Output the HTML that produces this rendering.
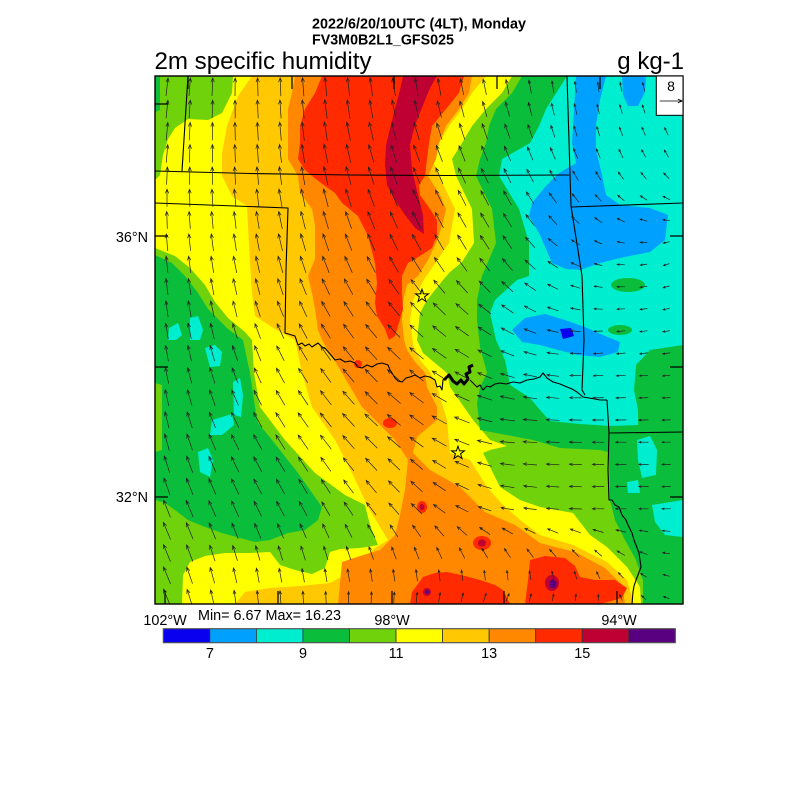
<!DOCTYPE html>
<html><head><meta charset="utf-8"><style>
html,body{margin:0;padding:0;background:#fff;}
svg{display:block;}
text{font-family:"Liberation Sans",Arial,sans-serif;fill:#000;}
</style></head><body>
<svg width="800" height="800" viewBox="0 0 800 800" xmlns="http://www.w3.org/2000/svg">
<defs><clipPath id="mc"><rect x="155" y="76" width="528" height="528"/></clipPath></defs>
<rect width="800" height="800" fill="#fff"/>
<g clip-path="url(#mc)">
<rect x="155" y="76" width="528" height="528" fill="#ffff00"/>
<!-- NW -->
<path fill="#70d20a" d="M155,76 L233,76 L232,93 L222,113 L208,120 L188,119 L175,128 L168,139 L163,155 L160,175 L155,180 Z"/>
<path fill="#0abe3c" d="M155,76 L160,76 L160,110 L155,112 Z"/>
<!-- SW -->
<path fill="#70d20a" d="M155,248 L175,256 L190,268 L205,285 L215,302 L228,318 L245,332 L252,340 L254,373 L260,407 L285,440 L315,473 L345,495 L365,505 L370,525 L378,545 L360,548 L340,549 L330,552 L325,568 L312,574 L295,570 L280,565 L270,552 L250,553 L225,553 L205,556 L190,562 L183,575 L182,604 L155,604 Z"/>
<path fill="#0abe3c" d="M155,255 L172,263 L185,276 L198,293 L208,309 L228,329 L243,340 L250,373 L255,407 L258,423 L272,440 L298,473 L322,507 L318,520 L305,530 L288,533 L270,540 L255,542 L240,538 L222,533 L205,527 L188,520 L175,510 L165,503 L155,500 Z"/>
<path fill="#70d20a" d="M155,383 L162,385 L162,450 L155,452 Z"/>
<g fill="#00eed0">
<path d="M205,348 L215,345 L222,352 L220,366 L210,367 Z"/>
<path d="M233,382 L240,378 L243,395 L241,417 L234,415 Z"/>
<path d="M212,420 L232,414 L234,425 L222,435 L210,435 Z"/>
<path d="M198,452 L208,448 L213,460 L210,477 L200,472 Z"/>
<path d="M190,318 L198,316 L203,330 L200,340 L190,340 Z"/>
<path d="M169,328 L178,323 L182,335 L176,340 L168,340 Z"/>
</g>
<!-- East -->
<path fill="#70d20a" d="M512,76 L683,76 L683,604 L641,604 L640,587 L627,567 L607,547 L590,535 L573,513 L540,507 L520,500 L500,487 L483,453 L490,450 L507,446 L490,440 L473,420 L450,387 L447,373 L423,353 L417,340 L420,313 L427,300 L443,280 L450,272 L462,262 L474,243 L472,209 L456,176 L452,159 L462,143 L472,126 L486,109 L502,93 Z"/>
<path fill="#0abe3c" d="M522,76 L683,76 L683,604 L643,604 L643,580 L636,560 L625,540 L615,520 L610,500 L609,460 L608,452 L600,450 L560,448 L533,440 L480,430 L477,403 L480,387 L487,373 L480,347 L477,320 L477,300 L482,276 L496,243 L492,209 L476,176 L480,159 L486,143 L489,126 L496,109 L512,93 Z"/>
<path fill="#00eed0" d="M567,76 L683,76 L683,345 L650,350 L636,365 L634,390 L638,410 L638,425 L610,426 L580,424 L550,421 L540,410 L530,398 L510,385 L505,360 L496,340 L490,313 L495,300 L517,280 L529,276 L529,243 L519,209 L499,176 L502,159 L530,143 L539,126 L546,109 Z"/>
<ellipse cx="628" cy="285" rx="17" ry="7" fill="#0abe3c"/>
<ellipse cx="620" cy="330" rx="12" ry="5" fill="#0abe3c"/>
<g fill="#00a0ff">
<path d="M576,76 L606,76 L600,100 L596,125 L596,150 L602,175 L606,195 L620,205 L650,208 L668,215 L665,240 L650,252 L620,258 L600,263 L580,270 L566,269 L552,263 L546,249 L539,233 L529,216 L532,203 L546,186 L559,173 L576,163 L572,143 L574,110 Z"/>
<path d="M622,76 L646,76 L645,92 L638,106 L628,106 L623,95 Z"/>
<path d="M512,330 L525,318 L545,314 L565,320 L585,327 L605,336 L620,342 L618,352 L600,357 L578,355 L558,350 L540,345 L522,342 Z"/>
</g>
<path fill="#0a00f0" d="M560,329 L571,328 L574,336 L563,339 Z"/>
<g fill="#00eed0">
<path d="M637,440 L650,436 L657,450 L656,475 L642,478 L638,460 Z"/>
<path d="M627,482 L638,480 L640,493 L628,493 Z"/>
<path d="M652,505 L683,500 L683,537 L665,535 L655,522 Z"/>
</g>
<!-- Tongue -->
<path fill="#ffc800" d="M252,76 L238,96 L227,126 L222,153 L222,176 L232,196 L247,206 L248,226 L250,263 L252,293 L255,316 L275,329 L295,340 L302,373 L312,407 L335,440 L352,473 L368,507 L388,540 L375,548 L360,560 L345,575 L330,583 L300,586 L270,588 L245,592 L235,604 L634,604 L627,580 L607,562 L573,545 L540,535 L520,520 L503,505 L487,487 L470,460 L450,453 L447,420 L437,387 L430,372 L420,360 L413,345 L410,320 L413,300 L425,278 L432,268 L449,243 L455,209 L439,176 L432,159 L439,143 L449,126 L462,109 L472,93 L486,76 Z"/>
<path fill="#ff8800" d="M295,76 L292,93 L288,109 L288,159 L298,176 L300,193 L312,209 L315,226 L315,259 L308,276 L312,293 L315,309 L318,330 L322,340 L342,373 L362,407 L395,440 L408,460 L405,490 L400,515 L395,535 L380,550 L360,556 L342,562 L338,604 L625,604 L622,585 L605,568 L575,552 L540,543 L515,525 L485,512 L460,487 L430,470 L413,453 L417,437 L437,420 L437,407 L427,387 L425,373 L415,362 L407,350 L404,340 L402,320 L403,300 L407,285 L418,276 L428,260 L436,243 L442,226 L446,209 L440,195 L428,176 L436,159 L439,143 L446,126 L459,109 L469,93 L472,76 Z"/>
<g fill="#ff2a00">
<path d="M322,76 L315,93 L305,109 L300,126 L300,143 L298,159 L305,170 L312,176 L325,186 L335,193 L342,203 L358,216 L368,236 L375,263 L377,283 L375,303 L377,316 L385,329 L389,340 L395,336 L398,326 L403,309 L402,293 L402,276 L408,263 L420,256 L432,248 L437,235 L437,220 L430,209 L420,195 L419,185 L425,176 L427,159 L429,143 L432,126 L446,109 L459,93 L464,76 Z"/>
<path d="M410,604 L412,592 L423,577 L435,573 L447,572 L465,576 L480,580 L495,585 L503,590 L510,604 Z"/>
<path d="M525,604 L528,580 L530,560 L545,556 L565,558 L575,566 L580,577 L595,580 L615,580 L627,588 L622,598 L600,604 Z"/>
<ellipse cx="482" cy="543" rx="9" ry="7"/>
<ellipse cx="390" cy="423" rx="7" ry="5"/>
<ellipse cx="358" cy="364" rx="4" ry="4"/>
<ellipse cx="422" cy="507" rx="5" ry="6"/>
</g>
<g fill="#bf0032">
<path d="M403,76 L437,76 L430,88 L423,105 L415,125 L410,145 L412,170 L418,195 L423,215 L424,234 L415,228 L405,215 L395,200 L387,185 L385,165 L386,145 L391,125 L396,105 L400,90 Z"/>
<ellipse cx="482" cy="543" rx="4" ry="3.5"/>
<ellipse cx="552" cy="583" rx="7" ry="8"/>
<ellipse cx="422" cy="507" rx="2.5" ry="3"/>
<ellipse cx="427" cy="592" rx="4" ry="4"/>
</g>
<ellipse cx="553" cy="584" rx="3.5" ry="4.5" fill="#58007f"/>
<ellipse cx="427" cy="592" rx="2" ry="2" fill="#58007f"/>
<!-- Borders -->
<g fill="none" stroke="#000" stroke-width="1.1" stroke-linejoin="round">
<path d="M188,76 L182,171"/>
<path d="M155,171 L250,173.5 L350,175 L450,175.5 L569,175"/>
<path d="M155,203 L288,208 L286,270 L285,333 L295,336 L298,345 L302,343 L305,346 L309,344 L312,347 L318,343 L322,347 L325,348 L330,354 L335,360 L340,359 L345,362 L350,361 L355,363 L358,367 L362,368 L367,365 L372,367 L377,364 L382,363 L388,365 L390,370 L392,373 L395,378 L398,381 L402,382 L406,378 L410,377 L415,375 L420,378 L425,376 L430,377 L435,380 L437,387 L440,386 L442,390 L443,380 L447,377"/>
<path d="M470,380 L474,384 L477,387 L480,385 L483,390 L487,386 L490,387 L495,384 L500,383 L506,384 L513,382 L520,383 L527,380 L534,379 L540,377 L543,373 L547,378 L553,382 L560,384 L567,387 L572,389 L577,392 L583,397 L589,398 L595,399 L600,400 L607,400"/>
<path d="M567,76 L571,206 L582,276 L584,340 L582,390 L585,395"/>
<path d="M571,207 L683,203"/>
<path d="M607,400 L609,433 L683,432"/>
<path d="M609,433 L608,470 L609,500 L612,500 L615,505 L619,507 L622,515 L626,520 L628,525 L632,533 L634,540 L636,545 L639,553 L640,560 L641,567 L638,575 L636,580 L634,586 L633,592 L632,604"/>
</g>
<path fill="none" stroke="#000" stroke-width="3" stroke-linejoin="round" d="M444,380 L449,375 L453,381 L457,384 L461,380 L464,384 L468,379 L466,374 L470,372 L469,367 L473,365"/>
<!-- stars -->
<g fill="none" stroke="#000" stroke-width="1">
<path id="star1" d=""/>
<path id="star2" d=""/>
</g>
<path id="arr" fill="none" stroke="#222" stroke-width="0.7" d=""/>
</g>
<!-- frame and ticks -->
<rect x="155" y="76" width="528" height="528" fill="none" stroke="#000" stroke-width="1.4"/>
<path fill="none" stroke="#000" stroke-width="1.2" d="M155,104 h13 M155,236 h13 M155,367 h13 M155,497 h13 M683,236 h-13 M683,367 h-13 M683,497 h-13 M165,604 v-13 M278,604 v-13 M392,604 v-13 M504,604 v-13 M617,604 v-13 M188,76 v13 M292,76 v13 M394,76 v13 M497,76 v13 M600,76 v13"/>
<!-- legend box -->
<rect x="656.3" y="76" width="26.7" height="39.3" fill="#fff" stroke="#000" stroke-width="1"/>
<text x="671" y="91" font-size="14" text-anchor="middle">8</text>
<path fill="none" stroke="#000" stroke-width="0.8" d="M659.7,101 L682.3,101 M682.3,101 L677.8,99.1 M682.3,101 L677.8,102.9"/>
<!-- titles -->
<text x="312" y="28.5" font-size="14.3" font-weight="bold" textLength="214" lengthAdjust="spacingAndGlyphs">2022/6/20/10UTC (4LT), Monday</text>
<text x="312" y="44.5" font-size="14.3" font-weight="bold" textLength="142" lengthAdjust="spacingAndGlyphs">FV3M0B2L1_GFS025</text>
<text x="154.5" y="69" font-size="24" textLength="217" lengthAdjust="spacingAndGlyphs">2m specific humidity</text>
<text x="684" y="69" font-size="24" text-anchor="end">g kg-1</text>
<!-- axis labels -->
<text x="148" y="242" font-size="14.4" text-anchor="end">36°N</text>
<text x="148" y="502" font-size="14.4" text-anchor="end">32°N</text>
<text x="165" y="625" font-size="14.4" text-anchor="middle">102°W</text>
<text x="392" y="625" font-size="14.4" text-anchor="middle">98°W</text>
<text x="619" y="625" font-size="14.4" text-anchor="middle">94°W</text>
<text x="198" y="620" font-size="14.4" textLength="143" lengthAdjust="spacingAndGlyphs">Min= 6.67 Max= 16.23</text>
<!-- colorbar -->
<g stroke="#333" stroke-width="0.8">
<rect x="163.3" y="628.7" width="46.55" height="14" fill="#0a00f0"/>
<rect x="209.85" y="628.7" width="46.55" height="14" fill="#00a0ff"/>
<rect x="256.4" y="628.7" width="46.55" height="14" fill="#00eed0"/>
<rect x="302.95" y="628.7" width="46.55" height="14" fill="#0abe3c"/>
<rect x="349.5" y="628.7" width="46.55" height="14" fill="#70d20a"/>
<rect x="396.05" y="628.7" width="46.55" height="14" fill="#ffff00"/>
<rect x="442.6" y="628.7" width="46.55" height="14" fill="#ffc800"/>
<rect x="489.15" y="628.7" width="46.55" height="14" fill="#ff8800"/>
<rect x="535.7" y="628.7" width="46.55" height="14" fill="#ff2a00"/>
<rect x="582.25" y="628.7" width="46.55" height="14" fill="#bf0032"/>
<rect x="628.8" y="628.7" width="46.55" height="14" fill="#58007f"/>
</g>
<rect x="163.3" y="628.7" width="512" height="14" fill="none" stroke="#555" stroke-width="1"/>
<text x="209.85" y="658" font-size="14.4" text-anchor="middle">7</text>
<text x="302.95" y="658" font-size="14.4" text-anchor="middle">9</text>
<text x="396.05" y="658" font-size="14.4" text-anchor="middle">11</text>
<text x="489.15" y="658" font-size="14.4" text-anchor="middle">13</text>
<text x="582.25" y="658" font-size="14.4" text-anchor="middle">15</text>
</svg>
<script>
(function(){
function star(cx,cy,R,r){var s='';for(var k=0;k<10;k++){var a=Math.PI/5*k-Math.PI/2;var rr=(k%2==0)?R:r;s+=(k==0?'M':'L')+(cx+rr*Math.cos(a)).toFixed(2)+','+(cy+rr*Math.sin(a)).toFixed(2)+' ';}return s+'Z';}
document.getElementById('star1').setAttribute('d',star(422,296,6.8,2.7));
document.getElementById('star2').setAttribute('d',star(458,453,6.8,2.7));
var A=[
[[8,18],[0,18],[-5,19],[-8,18],[-10,15],[-5,10],[-15,8]],
[[5,18],[-3,18],[-12,19],[-22,18],[-25,16],[-25,10],[-35,8]],
[[-5,17],[-10,17],[-20,18],[-30,18],[-35,16],[-70,8],[-120,6]],
[[-8,16],[-18,16],[-35,17],[-50,18],[-65,14],[-95,9],[-100,7]],
[[-12,17],[-28,17],[-40,18],[-55,17],[-85,15],[-90,12],[-90,8]],
[[-22,19],[-25,17],[-30,16],[-45,15],[-80,13],[-90,12],[-90,8]],
[[-25,19],[-5,14],[0,12],[10,10],[30,8],[10,6],[-85,6]]
];
var d='';
for(var j=0;j<24;j++){for(var i=0;i<23;i++){
 var cx=167+22.7*i, cy=87+22.2*j;
 if(cx>652&&cy<120)continue;
 var fx=Math.max(0,Math.min(6,(cx-155)/88)), fy=Math.max(0,Math.min(6,(cy-76)/88));
 var ii=Math.min(5,Math.floor(fx)), jj=Math.min(5,Math.floor(fy));
 var tx=fx-ii, ty=fy-jj;
 var g=function(k){return (1-tx)*(1-ty)*A[jj][ii][k]+tx*(1-ty)*A[jj][ii+1][k]+(1-tx)*ty*A[jj+1][ii][k]+tx*ty*A[jj+1][ii+1][k];};
 var a=g(0)*Math.PI/180, L=g(1);
 var sx=Math.sin(a), sy=-Math.cos(a);
 var x1=cx-sx*L/2, y1=cy-sy*L/2, x2=cx+sx*L/2, y2=cy+sy*L/2;
 var h=Math.min(4.5,Math.max(2.5,L*0.27)), th=Math.atan2(-sy,-sx), b=0.38;
 d+='M'+x1.toFixed(1)+','+y1.toFixed(1)+'L'+x2.toFixed(1)+','+y2.toFixed(1);
 d+='M'+(x2+h*Math.cos(th+b)).toFixed(1)+','+(y2+h*Math.sin(th+b)).toFixed(1)+'L'+x2.toFixed(1)+','+y2.toFixed(1)+'L'+(x2+h*Math.cos(th-b)).toFixed(1)+','+(y2+h*Math.sin(th-b)).toFixed(1);
}}
document.getElementById('arr').setAttribute('d',d);
})();
</script>
</body></html>
